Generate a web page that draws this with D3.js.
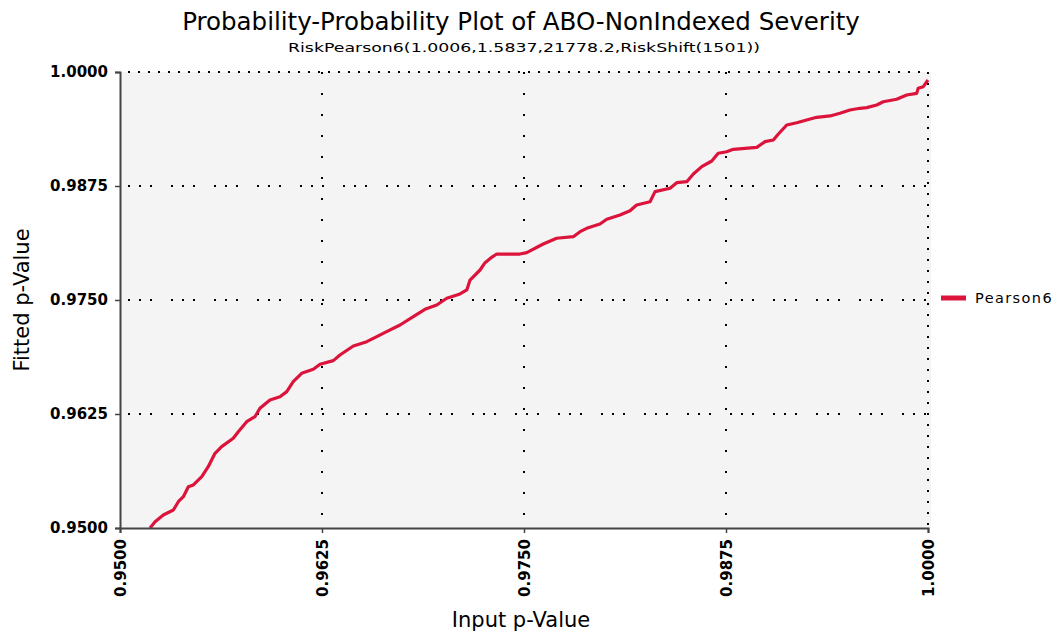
<!DOCTYPE html>
<html>
<head>
<meta charset="utf-8">
<script src="https://cdn.jsdelivr.net/npm/d3@7"></script>
<style>
  html, body { margin: 0; padding: 0; background: #fff; }
  svg { display: block; }
</style>
</head>
<body>
<div id="chart"></div>
<script>
const WIDTH = 1058;
const HEIGHT = 638;

// values
const inputP = [
  0.95186, 0.95217, 0.95268, 0.95330, 0.95361, 0.95392, 0.95423, 0.95454, 0.95506, 0.95546,
  0.95588, 0.95629, 0.95701, 0.95732, 0.95784, 0.95835, 0.95866, 0.95928, 0.95990, 0.96032,
  0.96072, 0.96124, 0.96196, 0.96238, 0.96320, 0.96361, 0.96444, 0.96527, 0.96589, 0.96650,
  0.96733, 0.96815, 0.96887, 0.96960, 0.97022, 0.97104, 0.97146, 0.97166, 0.97228, 0.97259,
  0.97300, 0.97331, 0.97475, 0.97517, 0.97619, 0.97702, 0.97805, 0.97847, 0.97888, 0.97970,
  0.98012, 0.98094, 0.98156, 0.98197, 0.98280, 0.98311, 0.98404, 0.98445, 0.98507, 0.98548,
  0.98600, 0.98662, 0.98702, 0.98754, 0.98795, 0.98940, 0.98991, 0.99043, 0.99074, 0.99126,
  0.99188, 0.99249, 0.99311, 0.99394, 0.99455, 0.99517, 0.99579, 0.99621, 0.99683, 0.99723,
  0.99806, 0.99868, 0.99930, 0.99939, 0.99971, 1.00000
];
const fittedP = [
  0.95000, 0.95069, 0.95143, 0.95197, 0.95288, 0.95343, 0.95453, 0.95472, 0.95563, 0.95672,
  0.95819, 0.95892, 0.95984, 0.96056, 0.96166, 0.96220, 0.96313, 0.96404, 0.96440, 0.96495,
  0.96604, 0.96696, 0.96740, 0.96795, 0.96835, 0.96897, 0.96996, 0.97043, 0.97098, 0.97153,
  0.97226, 0.97317, 0.97398, 0.97445, 0.97519, 0.97566, 0.97610, 0.97719, 0.97829, 0.97909,
  0.97968, 0.98004, 0.98004, 0.98019, 0.98114, 0.98177, 0.98194, 0.98249, 0.98286, 0.98333,
  0.98385, 0.98432, 0.98479, 0.98542, 0.98578, 0.98688, 0.98725, 0.98786, 0.98797, 0.98882,
  0.98962, 0.99024, 0.99109, 0.99126, 0.99152, 0.99174, 0.99236, 0.99254, 0.99320, 0.99419,
  0.99444, 0.99474, 0.99503, 0.99518, 0.99547, 0.99583, 0.99602, 0.99609, 0.99638, 0.99674,
  0.99701, 0.99748, 0.99766, 0.99821, 0.99839, 0.99912
];
const tickValues = [0.95, 0.9625, 0.975, 0.9875, 1.0];
const tickLabels = ['0.9500', '0.9625', '0.9750', '0.9875', '1.0000'];
const seriesName = 'Pearson6';
const titleText = 'Probability-Probability Plot of ABO-NonIndexed Severity';
const subtitleText = 'RiskPearson6(1.0006,1.5837,21778.2,RiskShift(1501))';

const M = { left: 120, right: 928, top: 72, bottom: 528 };
const RED = '#dc143c';
const FONT = 'DejaVu Sans, Verdana, sans-serif';

const svg = d3.select('#chart').append('svg')
  .attr('width', WIDTH)
  .attr('height', HEIGHT);

const x = d3.scaleLinear().domain([0.95, 1.0]).range([M.left, M.right]);
const y = d3.scaleLinear().domain([0.95, 1.0]).range([M.bottom, M.top]);

// plot background
svg.append('rect')
  .attr('x', M.left).attr('y', M.top)
  .attr('width', M.right - M.left + 3).attr('height', M.bottom - M.top)
  .attr('fill', '#f4f4f4');

// dotted grid
const grid = svg.append('g').attr('shape-rendering', 'crispEdges');
grid.selectAll('line.h')
  .data(tickValues.filter(v => v > 0.95))
  .enter().append('line')
  .attr('class', 'h')
  .attr('x1', M.left + 8).attr('x2', M.right)
  .attr('y1', d => Math.round(y(d))).attr('y2', d => Math.round(y(d)))
  .attr('stroke', '#000')
  .attr('stroke-width', 2)
  .attr('stroke-dasharray', d => (d === 1.0 ? '2,8' : '2,9,2,9,2,19'));

grid.selectAll('line.v')
  .data(tickValues.filter(v => v > 0.95))
  .enter().append('line')
  .attr('class', 'v')
  .attr('x1', d => Math.round(x(d))).attr('x2', d => Math.round(x(d)))
  .attr('y1', M.top).attr('y2', M.bottom)
  .attr('stroke', '#000')
  .attr('stroke-width', 2)
  .attr('stroke-dasharray', d => (d === 1.0 ? '2,9' : '2,19'));

// clip for the curve
svg.append('clipPath').attr('id', 'plot-clip')
  .append('rect')
  .attr('x', M.left).attr('y', M.top - 4)
  .attr('width', M.right - M.left + 4).attr('height', M.bottom - M.top + 4);

const pts = inputP.map((v, i) => [v, fittedP[i]]);
const line = d3.line().x(d => x(d[0])).y(d => y(d[1]));

svg.append('path')
  .datum(pts)
  .attr('clip-path', 'url(#plot-clip)')
  .attr('d', line)
  .attr('fill', 'none')
  .attr('stroke', RED)
  .attr('stroke-width', 3.2)
  .attr('stroke-linejoin', 'round');

// axes
const xAxis = d3.axisBottom(x).tickValues(tickValues).tickFormat((d, i) => tickLabels[i]).tickSize(5).tickPadding(8);
const yAxis = d3.axisLeft(y).tickValues(tickValues).tickFormat((d, i) => tickLabels[i]).tickSize(5).tickPadding(7);

const gx = svg.append('g')
  .attr('transform', `translate(0,${M.bottom})`)
  .call(xAxis);
gx.select('.domain').attr('stroke', '#444').attr('stroke-width', 2);
gx.selectAll('.tick line').attr('stroke', '#444').attr('stroke-width', 1.5);
gx.selectAll('.tick text')
  .attr('font-family', FONT)
  .attr('font-size', 15)
  .attr('font-weight', 'bold')
  .attr('fill', '#000')
  .attr('text-anchor', 'end')
  .attr('transform', 'rotate(-90)')
  .attr('x', -11)
  .attr('y', 0)
  .attr('dy', '0.35em');

const gy = svg.append('g')
  .attr('transform', `translate(${M.left},0)`)
  .call(yAxis);
gy.select('.domain').attr('stroke', '#444').attr('stroke-width', 2);
gy.selectAll('.tick line').attr('stroke', '#444').attr('stroke-width', 1.5);
gy.selectAll('.tick text')
  .attr('font-family', FONT)
  .attr('font-size', 15)
  .attr('font-weight', 'bold')
  .attr('fill', '#000');

// titles
svg.append('text')
  .attr('x', 521).attr('y', 30)
  .attr('text-anchor', 'middle')
  .attr('font-family', FONT)
  .attr('font-size', 24.5)
  .attr('fill', '#000')
  .text(titleText);

svg.append('text')
  .attr('x', 524).attr('y', 52)
  .attr('text-anchor', 'middle')
  .attr('font-family', FONT)
  .attr('font-size', 12.5)
  .attr('textLength', 472)
  .attr('lengthAdjust', 'spacingAndGlyphs')
  .attr('fill', '#000')
  .text(subtitleText);

svg.append('text')
  .attr('x', 521).attr('y', 627)
  .attr('text-anchor', 'middle')
  .attr('font-family', FONT)
  .attr('font-size', 21)
  .attr('fill', '#000')
  .text('Input p-Value');

svg.append('text')
  .attr('transform', 'translate(29,300) rotate(-90)')
  .attr('text-anchor', 'middle')
  .attr('font-family', FONT)
  .attr('font-size', 21)
  .attr('fill', '#000')
  .text('Fitted p-Value');

// legend
const legend = svg.append('g').attr('transform', 'translate(941,298)');
legend.append('line')
  .attr('x1', 0).attr('x2', 25)
  .attr('y1', 0).attr('y2', 0)
  .attr('stroke', RED)
  .attr('stroke-width', 5);
legend.append('text')
  .attr('x', 34).attr('y', 0)
  .attr('dy', '0.35em')
  .attr('font-family', FONT)
  .attr('font-size', 14.5)
  .attr('letter-spacing', 1.4)
  .attr('fill', '#000')
  .text(seriesName);
</script>
</body>
</html>
